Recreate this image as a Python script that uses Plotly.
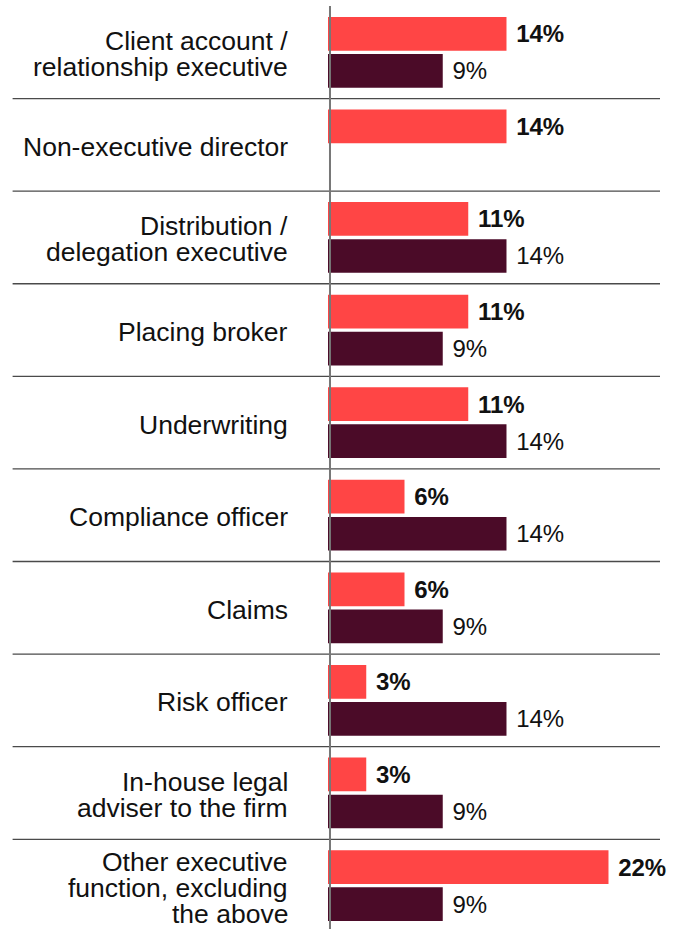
import plotly.graph_objects as go

# Roles (one entry per label line) and the share of respondents for each series
roles = [
    ["Client account /", "relationship executive"],
    ["Non-executive director"],
    ["Distribution /", "delegation executive"],
    ["Placing broker"],
    ["Underwriting"],
    ["Compliance officer"],
    ["Claims"],
    ["Risk officer"],
    ["In-house legal", "adviser to the firm"],
    ["Other executive", "function, excluding", "the above"],
]
series_a = [14, 14, 11, 11, 11, 6, 6, 3, 3, 22]
series_b = [9, None, 14, 9, 14, 14, 9, 14, 9, 9]

categories = [" ".join(r) for r in roles]

RED = "#FF4545"
MAROON = "#4B0B28"
FONT = "Liberation Sans"
INK = "#111111"

fig = go.Figure()
fig.add_trace(go.Bar(
    y=categories, x=series_a, orientation="h", name="Series A",
    marker=dict(color=RED, line=dict(width=0)),
    texttemplate="\u00a0<b>%{x}%</b>", textposition="outside",
    textfont=dict(family=FONT, size=24, color=INK),
    cliponaxis=False, constraintext="none", hoverinfo="skip",
))
fig.add_trace(go.Bar(
    y=categories, x=series_b, orientation="h", name="Series B",
    marker=dict(color=MAROON, line=dict(width=0)),
    texttemplate="\u00a0%{x}%", textposition="outside",
    textfont=dict(family=FONT, size=24, color=INK),
    cliponaxis=False, constraintext="none", hoverinfo="skip",
))

# Right-aligned role labels, one annotation per line with tight leading
LINE_STEP = 26
annotations = []
for cat, lines in zip(categories, roles):
    n = len(lines)
    for k, line in enumerate(lines):
        offset = (k - (n - 1) / 2) * LINE_STEP + 2
        annotations.append(dict(
            xref="paper", yref="y", x=-0.1175, y=cat,
            text=line, showarrow=False, borderpad=0,
            xanchor="right", yanchor="middle", yshift=-offset,
            font=dict(family=FONT, size=26.5, color=INK),
        ))

# Horizontal separators between role groups
shapes = []
for i in range(len(categories) - 1):
    shapes.append(dict(
        type="line", xref="paper", yref="y",
        x0=-0.95, x1=1.0, y0=i + 0.5, y1=i + 0.5,
        line=dict(color="#4a4a4a", width=1.3), layer="above",
    ))
# Vertical baseline
shapes.append(dict(
    type="line", xref="paper", yref="paper", x0=0.006, x1=0.006, y0=0, y1=1,
    line=dict(color="#777777", width=2), layer="above",
))

fig.update_layout(
    width=675, height=929,
    margin=dict(l=328, r=15, t=6, b=0),
    paper_bgcolor="white", plot_bgcolor="white",
    barmode="group", bargap=0.2, bargroupgap=0.09,
    showlegend=False,
    shapes=shapes, annotations=annotations,
    font=dict(family=FONT, size=24, color=INK),
    xaxis=dict(range=[0, 26.04], visible=False, fixedrange=True),
    yaxis=dict(
        range=[9.469, -0.5], showgrid=False, zeroline=False, showline=False,
        showticklabels=False, ticks="", fixedrange=True,
    ),
)

fig.write_html("out.html")
